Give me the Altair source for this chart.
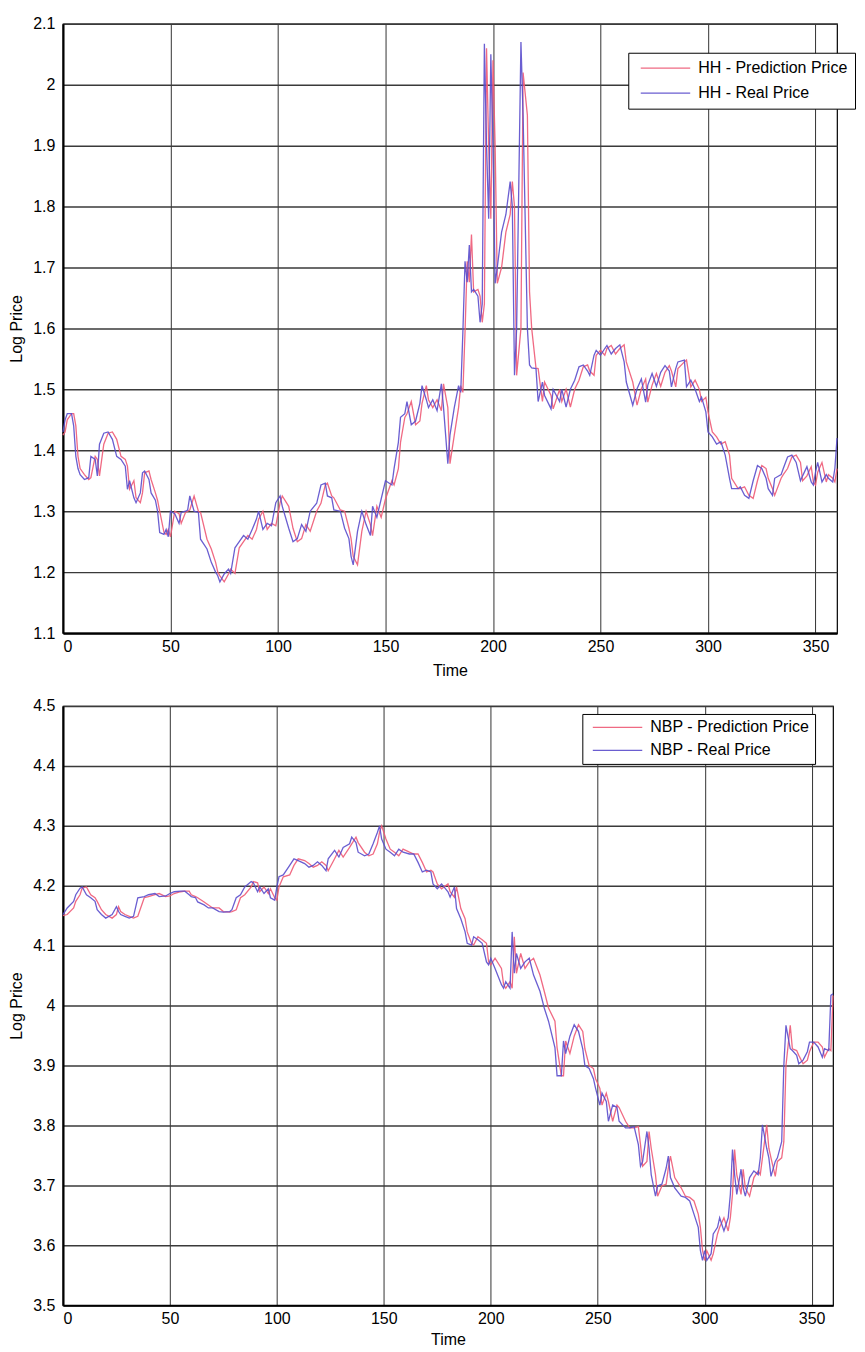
import altair as alt
import pandas as pd

# ---------------- data ----------------
HH_NAMES = ["HH - Prediction Price", "HH - Real Price"]
NBP_NAMES = ["NBP - Prediction Price", "NBP - Real Price"]

hh_time = [0, 1, 2, 4, 5, 6, 7, 8, 10, 12, 13, 15, 16, 17, 19, 21, 23, 25, 27, 29,
           30, 31, 33, 34, 36, 37, 38, 40, 41, 43, 44, 45, 47, 48, 49, 50, 52, 54, 55, 57,
           58, 59, 61, 63, 64, 67, 69, 71, 72, 73, 75, 77, 78, 80, 82, 84, 86, 88, 90, 91,
           93, 95, 97, 99, 101, 102, 105, 107, 109, 111, 113, 115, 118, 120, 122, 123, 125, 126, 129, 131,
           133, 134, 135, 137, 139, 141, 143, 144, 146, 148, 150, 153, 154, 156, 157, 159, 160, 162, 164, 166,
           167, 169, 170, 172, 174, 176, 177, 179, 180, 182, 184, 185, 186, 187, 188, 189, 190, 191, 193, 194,
           195, 196, 197, 198, 199, 200, 201, 202, 204, 206, 208, 209, 210, 211, 213, 214, 216, 217, 218, 220,
           221, 223, 224, 227, 228, 231, 232, 234, 236, 238, 240, 242, 244, 245, 247, 248, 250, 252, 253, 255,
           257, 259, 261, 262, 265, 267, 269, 271, 272, 274, 276, 278, 280, 282, 283, 285, 286, 289, 290, 292,
           294, 296, 297, 299, 300, 302, 304, 306, 308, 310, 311, 314, 315, 317, 319, 321, 323, 325, 327, 328,
           330, 331, 334, 335, 337, 339, 341, 343, 344, 346, 348, 349, 350, 351, 353, 355, 356, 358, 359, 360]

hh_real = [1.430, 1.450, 1.460, 1.460, 1.440, 1.390, 1.370, 1.360, 1.352, 1.355, 1.390, 1.385, 1.358, 1.410, 1.428, 1.430, 1.418, 1.390, 1.385, 1.374,
           1.336, 1.350, 1.322, 1.314, 1.330, 1.363, 1.366, 1.352, 1.330, 1.318, 1.300, 1.265, 1.262, 1.270, 1.258, 1.300, 1.296, 1.280, 1.298, 1.300,
           1.302, 1.325, 1.300, 1.298, 1.254, 1.238, 1.216, 1.200, 1.194, 1.184, 1.197, 1.205, 1.198, 1.240, 1.250, 1.260, 1.254, 1.270, 1.287, 1.300,
           1.270, 1.280, 1.276, 1.314, 1.325, 1.308, 1.272, 1.250, 1.255, 1.278, 1.267, 1.300, 1.313, 1.343, 1.346, 1.325, 1.322, 1.302, 1.300, 1.272,
           1.255, 1.226, 1.212, 1.267, 1.300, 1.278, 1.260, 1.308, 1.290, 1.320, 1.350, 1.343, 1.370, 1.413, 1.454, 1.460, 1.480, 1.442, 1.448, 1.477,
           1.506, 1.483, 1.470, 1.483, 1.465, 1.509, 1.470, 1.378, 1.425, 1.470, 1.506, 1.495, 1.594, 1.710, 1.676, 1.737, 1.660, 1.664, 1.653, 1.610,
           1.640, 2.067, 1.900, 1.780, 2.050, 1.900, 1.674, 1.700, 1.758, 1.787, 1.841, 1.800, 1.523, 1.600, 2.070, 1.950, 1.600, 1.540, 1.535, 1.534,
           1.480, 1.512, 1.490, 1.468, 1.500, 1.480, 1.500, 1.471, 1.500, 1.515, 1.537, 1.540, 1.530, 1.523, 1.556, 1.564, 1.556, 1.567, 1.572, 1.558,
           1.567, 1.573, 1.545, 1.512, 1.474, 1.501, 1.517, 1.479, 1.507, 1.526, 1.505, 1.528, 1.539, 1.530, 1.504, 1.534, 1.545, 1.548, 1.504, 1.515,
           1.500, 1.480, 1.487, 1.463, 1.430, 1.422, 1.410, 1.414, 1.392, 1.354, 1.337, 1.337, 1.340, 1.326, 1.321, 1.350, 1.375, 1.370, 1.354, 1.337,
           1.326, 1.354, 1.360, 1.370, 1.389, 1.392, 1.380, 1.350, 1.358, 1.373, 1.348, 1.343, 1.364, 1.380, 1.348, 1.360, 1.354, 1.348, 1.370, 1.420]

hh_pred = [1.425, 1.430, 1.450, 1.460, 1.460, 1.440, 1.390, 1.370, 1.360, 1.352, 1.355, 1.390, 1.385, 1.358, 1.410, 1.428, 1.430, 1.418, 1.390, 1.385,
           1.374, 1.336, 1.350, 1.322, 1.314, 1.330, 1.363, 1.366, 1.352, 1.330, 1.318, 1.300, 1.265, 1.262, 1.270, 1.258, 1.300, 1.296, 1.280, 1.298,
           1.300, 1.302, 1.325, 1.300, 1.298, 1.254, 1.238, 1.216, 1.200, 1.194, 1.184, 1.197, 1.205, 1.198, 1.240, 1.250, 1.260, 1.254, 1.270, 1.287,
           1.300, 1.270, 1.280, 1.276, 1.314, 1.325, 1.308, 1.272, 1.250, 1.255, 1.278, 1.267, 1.300, 1.313, 1.343, 1.346, 1.325, 1.322, 1.302, 1.300,
           1.272, 1.255, 1.226, 1.212, 1.267, 1.300, 1.278, 1.260, 1.308, 1.290, 1.320, 1.350, 1.343, 1.370, 1.413, 1.454, 1.460, 1.480, 1.442, 1.448,
           1.477, 1.506, 1.483, 1.470, 1.483, 1.465, 1.509, 1.470, 1.378, 1.425, 1.470, 1.506, 1.495, 1.594, 1.710, 1.676, 1.754, 1.660, 1.664, 1.653,
           1.610, 1.640, 2.060, 1.900, 1.780, 2.040, 1.900, 1.674, 1.700, 1.758, 1.787, 1.841, 1.800, 1.523, 1.600, 2.020, 1.950, 1.660, 1.600, 1.535,
           1.534, 1.480, 1.512, 1.490, 1.468, 1.500, 1.480, 1.500, 1.471, 1.500, 1.515, 1.537, 1.540, 1.530, 1.523, 1.556, 1.564, 1.556, 1.567, 1.572,
           1.558, 1.567, 1.573, 1.545, 1.512, 1.474, 1.501, 1.517, 1.479, 1.507, 1.526, 1.505, 1.528, 1.539, 1.530, 1.504, 1.534, 1.545, 1.548, 1.504,
           1.515, 1.500, 1.480, 1.487, 1.463, 1.430, 1.422, 1.410, 1.414, 1.392, 1.354, 1.337, 1.337, 1.340, 1.326, 1.321, 1.350, 1.375, 1.370, 1.354,
           1.337, 1.326, 1.354, 1.360, 1.370, 1.389, 1.392, 1.380, 1.350, 1.358, 1.373, 1.348, 1.343, 1.364, 1.380, 1.348, 1.360, 1.354, 1.348, 1.370]

nbp_time = [0, 2, 5, 6, 8, 9, 11, 13, 15, 16, 18, 20, 23, 25, 26, 27, 29, 31, 33, 35,
            38, 40, 43, 45, 48, 50, 52, 55, 57, 59, 60, 62, 63, 66, 68, 70, 73, 75, 78, 79,
            81, 83, 85, 88, 89, 91, 92, 94, 96, 97, 99, 100, 101, 103, 106, 108, 110, 113, 115, 117,
            119, 121, 123, 124, 127, 129, 131, 134, 135, 137, 138, 141, 143, 145, 147, 148, 149, 151, 153, 155,
            157, 159, 162, 164, 166, 168, 170, 172, 173, 175, 177, 180, 181, 183, 184, 186, 188, 189, 191, 192,
            194, 196, 198, 199, 200, 202, 205, 206, 207, 209, 210, 211, 212, 214, 216, 218, 220, 223, 225, 227,
            230, 231, 233, 234, 235, 237, 239, 241, 243, 244, 246, 248, 249, 251, 252, 254, 255, 257, 259, 260,
            263, 265, 267, 269, 270, 271, 273, 274, 275, 277, 278, 280, 282, 283, 284, 286, 289, 291, 293, 295,
            297, 298, 299, 300, 301, 303, 304, 306, 307, 309, 311, 312, 313, 314, 315, 317, 318, 319, 321, 323,
            325, 326, 327, 329, 330, 331, 333, 334, 336, 337, 338, 340, 341, 343, 344, 346, 348, 349, 351, 353,
            355, 356, 358, 359, 360]

nbp_real = [4.152, 4.163, 4.174, 4.185, 4.196, 4.198, 4.185, 4.180, 4.174, 4.160, 4.152, 4.146, 4.152, 4.165, 4.157, 4.152, 4.149, 4.146, 4.149, 4.180,
            4.182, 4.185, 4.187, 4.182, 4.183, 4.187, 4.190, 4.191, 4.191, 4.185, 4.182, 4.180, 4.173, 4.168, 4.163, 4.163, 4.157, 4.156, 4.157, 4.160,
            4.180, 4.185, 4.198, 4.207, 4.205, 4.190, 4.198, 4.187, 4.195, 4.180, 4.176, 4.198, 4.215, 4.218, 4.234, 4.245, 4.242, 4.237, 4.231, 4.234,
            4.240, 4.234, 4.225, 4.245, 4.259, 4.248, 4.264, 4.270, 4.281, 4.272, 4.256, 4.250, 4.253, 4.270, 4.289, 4.300, 4.278, 4.261, 4.256, 4.250,
            4.261, 4.256, 4.253, 4.253, 4.239, 4.223, 4.226, 4.223, 4.203, 4.195, 4.203, 4.190, 4.181, 4.198, 4.162, 4.145, 4.123, 4.104, 4.101, 4.115,
            4.110, 4.104, 4.073, 4.068, 4.079, 4.062, 4.035, 4.029, 4.040, 4.029, 4.123, 4.054, 4.087, 4.062, 4.073, 4.079, 4.051, 4.024, 3.996, 3.974,
            3.930, 3.883, 3.883, 3.941, 3.920, 3.949, 3.968, 3.957, 3.928, 3.900, 3.895, 3.878, 3.862, 3.834, 3.854, 3.840, 3.807, 3.834, 3.830, 3.807,
            3.796, 3.796, 3.798, 3.768, 3.732, 3.740, 3.790, 3.762, 3.718, 3.682, 3.699, 3.702, 3.729, 3.749, 3.713, 3.696, 3.682, 3.680, 3.674, 3.652,
            3.630, 3.591, 3.575, 3.591, 3.575, 3.586, 3.619, 3.630, 3.646, 3.624, 3.646, 3.685, 3.760, 3.718, 3.685, 3.727, 3.696, 3.682, 3.713, 3.724,
            3.718, 3.746, 3.801, 3.762, 3.746, 3.715, 3.740, 3.746, 3.773, 3.900, 3.967, 3.928, 3.925, 3.917, 3.903, 3.909, 3.923, 3.939, 3.939, 3.931,
            3.914, 3.928, 3.925, 4.017, 4.020]

nbp_pred = [4.150, 4.152, 4.163, 4.174, 4.185, 4.196, 4.198, 4.185, 4.180, 4.174, 4.160, 4.152, 4.146, 4.152, 4.165, 4.157, 4.152, 4.149, 4.146, 4.149,
            4.180, 4.182, 4.185, 4.187, 4.182, 4.183, 4.187, 4.190, 4.191, 4.191, 4.185, 4.182, 4.180, 4.173, 4.168, 4.163, 4.163, 4.157, 4.156, 4.157,
            4.160, 4.180, 4.185, 4.198, 4.207, 4.205, 4.190, 4.198, 4.187, 4.195, 4.180, 4.176, 4.198, 4.215, 4.218, 4.234, 4.245, 4.242, 4.237, 4.231,
            4.234, 4.240, 4.234, 4.225, 4.245, 4.259, 4.248, 4.264, 4.270, 4.281, 4.272, 4.256, 4.250, 4.253, 4.270, 4.289, 4.300, 4.278, 4.261, 4.256,
            4.250, 4.261, 4.256, 4.253, 4.253, 4.239, 4.223, 4.226, 4.223, 4.203, 4.195, 4.203, 4.190, 4.181, 4.198, 4.162, 4.145, 4.123, 4.104, 4.101,
            4.115, 4.110, 4.104, 4.073, 4.068, 4.079, 4.062, 4.035, 4.029, 4.040, 4.029, 4.115, 4.054, 4.087, 4.062, 4.073, 4.079, 4.051, 4.024, 3.996,
            3.974, 3.930, 3.883, 3.883, 3.941, 3.920, 3.949, 3.968, 3.957, 3.928, 3.900, 3.895, 3.878, 3.862, 3.834, 3.854, 3.840, 3.807, 3.834, 3.830,
            3.807, 3.796, 3.796, 3.798, 3.768, 3.732, 3.740, 3.790, 3.762, 3.718, 3.682, 3.699, 3.702, 3.729, 3.749, 3.713, 3.696, 3.682, 3.680, 3.674,
            3.652, 3.630, 3.591, 3.575, 3.591, 3.575, 3.586, 3.619, 3.630, 3.646, 3.624, 3.646, 3.685, 3.760, 3.718, 3.685, 3.727, 3.696, 3.682, 3.713,
            3.724, 3.718, 3.746, 3.801, 3.762, 3.746, 3.715, 3.740, 3.746, 3.773, 3.900, 3.967, 3.928, 3.925, 3.917, 3.903, 3.909, 3.923, 3.939, 3.939,
            3.931, 3.914, 3.928, 3.925, 4.017]

x_ticks = [0, 50, 100, 150, 200, 250, 300, 350]
hh_y_ticks = [1.1, 1.2, 1.3, 1.4, 1.5, 1.6, 1.7, 1.8, 1.9, 2.0, 2.1]
nbp_y_ticks = [3.5, 3.6, 3.7, 3.8, 3.9, 4.0, 4.1, 4.2, 4.3, 4.4, 4.5]

RED = "#ee5a76"
BLUE = "#5a4ccc"
FONT = "Liberation Sans"
LEGEND_LINE = "M-0.4,0L6.2,0"


def panel(times, real, pred, names, ydom, yticks, width, height, legx, legy,
          x_title_pad, leg_pad, leg_row_pad):
    n = len(times)
    df = pd.DataFrame({
        "Time": list(times) + list(times),
        "Value": list(pred) + list(real),
        "Series": [names[0]] * n + [names[1]] * n,
        "order": list(range(n)) + list(range(n)),
    })
    color = alt.Color(
        "Series:N",
        scale=alt.Scale(domain=names, range=[RED, BLUE]),
        legend=alt.Legend(
            title=None, orient="none", legendX=legx, legendY=legy,
            fillColor="white", strokeColor="black", padding=leg_pad,
            cornerRadius=0,
            symbolType=LEGEND_LINE, symbolSize=225, symbolStrokeWidth=1.2,
            labelFont=FONT, labelFontSize=16, labelColor="black",
            labelOffset=46, rowPadding=leg_row_pad, labelLimit=400,
        ),
    )
    base = alt.Chart(df).encode(
        x=alt.X("Time:Q",
                scale=alt.Scale(domain=[0, 360], nice=False, zero=False),
                axis=alt.Axis(values=x_ticks, format="d", title="Time",
                              titlePadding=x_title_pad, labelPadding=5,
                              gridColor="#333333", gridWidth=1)),
        y=alt.Y("Value:Q",
                scale=alt.Scale(domain=ydom, nice=False, zero=False),
                axis=alt.Axis(values=yticks, format="~g", title="Log Price",
                              titlePadding=8, labelPadding=8,
                              gridColor="#3a3a3a", gridWidth=1.5)),
        color=color,
        order="order:Q",
    )
    pred_line = base.transform_filter(alt.datum.Series == names[0]).mark_line(
        strokeWidth=1.3, opacity=0.9)
    real_line = base.transform_filter(alt.datum.Series == names[1]).mark_line(
        strokeWidth=1.3, opacity=0.9)
    return alt.layer(pred_line, real_line).properties(width=width, height=height)


top = panel(hh_time, hh_real, hh_pred, HH_NAMES, [1.1, 2.1], hh_y_ticks,
            775, 610, 566, 29, 8, 7, 8)
bottom = panel(nbp_time, nbp_real, nbp_pred, NBP_NAMES, [3.5, 4.5], nbp_y_ticks,
               771, 600, 520, 8, 5, 5, 6)

chart = (
    alt.vconcat(top, bottom, spacing=18)
    .resolve_scale(x="independent", y="independent", color="independent")
    .resolve_legend(color="independent")
    .properties(padding={"left": 0, "top": 6, "right": 0, "bottom": 0},
                background="white")
    .configure_view(stroke="black", strokeWidth=1.2)
    .configure_axis(
        grid=True, gridOpacity=1,
        ticks=False, domain=True, domainColor="black", domainWidth=2.2,
        labelFont=FONT, labelFontSize=16, labelColor="black",
        titleFont=FONT, titleFontSize=16, titleFontWeight="normal",
        titleColor="black",
    )
)

chart.save("out.html", embed_options={"renderer": "svg", "actions": False})
